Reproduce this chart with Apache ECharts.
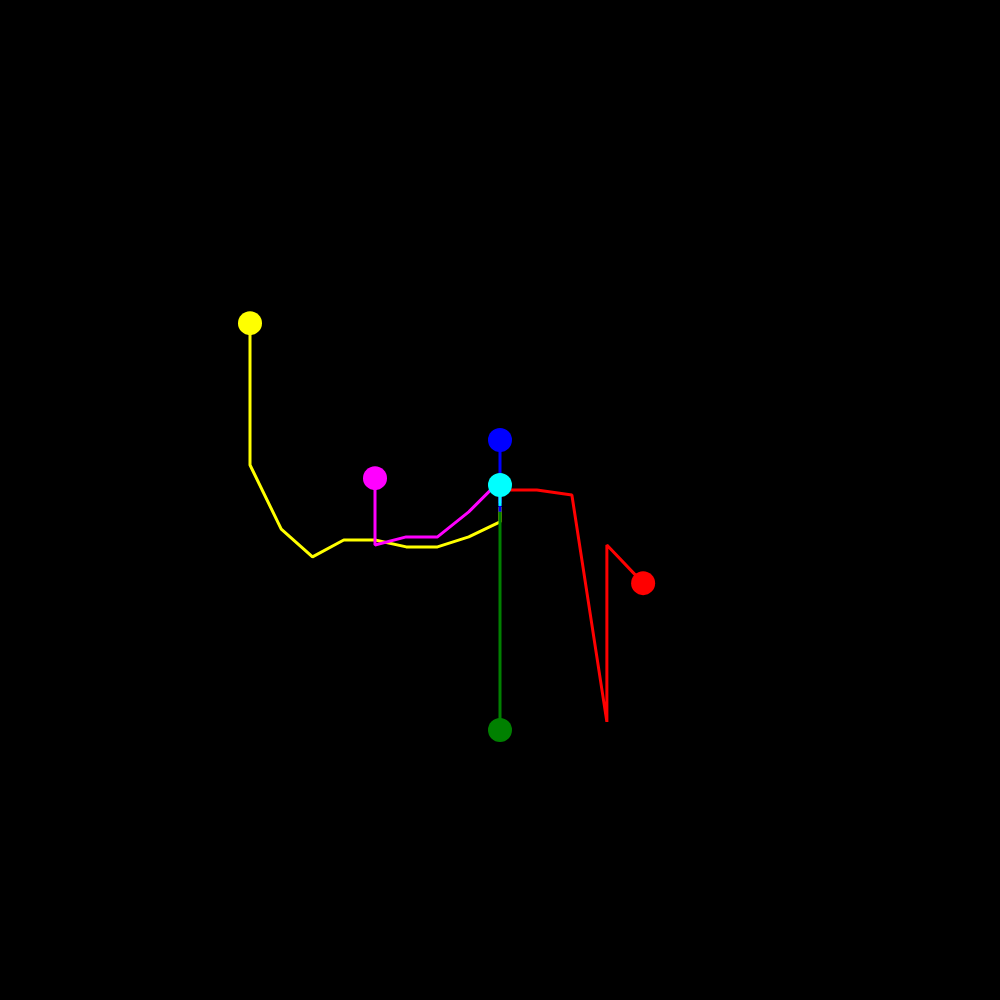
<!DOCTYPE html>
<html>
<head>
<meta charset="utf-8">
<script src="https://cdn.jsdelivr.net/npm/echarts@6/dist/echarts.min.js"></script>
<style>html,body{margin:0;padding:0;background:#000;}#c{width:1000px;height:1000px;}</style>
</head>
<body>
<div id="c"></div>
<script>
// Paths: first point is the marked end (dot), last point is near the common centre
var yellowPath  = [[-8, 5.66], [-8, 1.12], [-7, -0.93], [-6, -1.82], [-5, -1.28], [-4, -1.28], [-3, -1.5], [-2, -1.5], [-1, -1.18], [0, -0.7], [0, -0.22]];
var magentaPath = [[-4, 0.7], [-4, -0.2], [-4, -0.22], [-4, -1.44], [-3, -1.18], [-2, -1.18], [-1, -0.38], [0, 0.62], [0, -0.1]];
var redPath     = [[4.58, -2.66], [3.42, -1.44], [3.42, -5.3], [3.42, -5.32], [3.42, -7.1], [2.3, 0.16], [1.18, 0.32], [0, 0.32]];
var bluePath    = [[0, 1.92], [0, -0.38]];
var cyanPath    = [[0, 0.48], [0, -0.19]];
var greenPath   = [[0, -7.36], [0, -0.38]];

var seriesDefs = [
  { name: 'yellow',  color: '#ffff00', path: yellowPath },
  { name: 'magenta', color: '#ff00ff', path: magentaPath },
  { name: 'red',     color: '#ff0000', path: redPath },
  { name: 'blue',    color: '#0000ff', path: bluePath },
  { name: 'cyan',    color: '#00ffff', path: cyanPath },
  { name: 'green',   color: '#008000', path: greenPath }
];

var chart = echarts.init(document.getElementById('c'), null, { renderer: 'canvas' });
chart.setOption({
  backgroundColor: '#000000',
  animation: false,
  grid: { left: 0, right: 0, top: 0, bottom: 0 },
  xAxis: { type: 'value', min: -16, max: 16, show: false },
  yAxis: { type: 'value', min: -16, max: 16, show: false },
  series: seriesDefs.map(function (d) {
    return {
      name: d.name,
      type: 'line',
      symbol: 'none',
      showSymbol: true,
      lineStyle: { color: d.color, width: 3 },
      itemStyle: { color: d.color },
      data: d.path.map(function (p, i) {
        return i === 0
          ? { value: p, symbol: 'circle', symbolSize: 24 }
          : { value: p };
      })
    };
  })
});
</script>
</body>
</html>
